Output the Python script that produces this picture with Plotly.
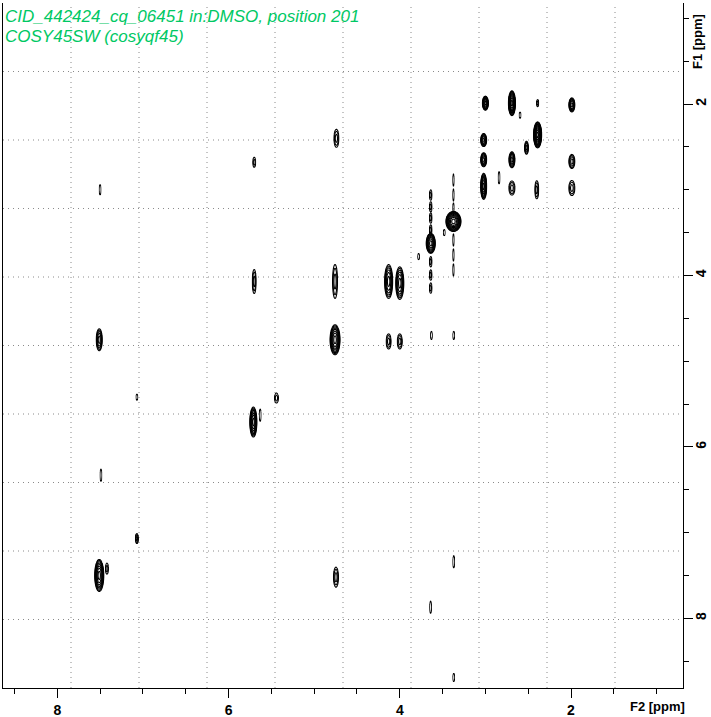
import numpy as np
import plotly.graph_objects as go

# ---- data (ppm) ----
peak_f2 = [3.00, 2.69, 2.595, 2.39, 1.99, 3.02, 2.39, 2.52, 3.02, 2.69, 1.99, 3.02, 2.84, 2.69, 2.40, 1.99,
           3.373, 3.638, 3.48, 3.78, 4.13, 4.00, 4.13, 4.00, 3.63, 3.37, 5.70, 4.756, 4.756, 4.74, 5.70,
           7.50, 7.51, 7.07, 5.44, 5.71, 5.63, 7.49, 7.07, 7.51, 7.42, 4.745, 3.37, 3.64, 3.37,
           3.373, 3.373, 3.373, 3.373, 3.373, 3.373,
           3.638, 3.638, 3.638, 3.638, 3.638, 3.638, 3.638]
peak_f1 = [1.99, 1.99, 2.13, 1.99, 2.01, 2.42, 2.36, 2.51, 2.65, 2.65, 2.67, 2.96, 2.86, 2.98, 3.00, 2.98,
           3.37, 3.625, 3.50, 3.78, 4.07, 4.09, 4.77, 4.77, 4.70, 4.70, 4.07, 4.07, 4.75, 2.40, 2.68,
           3.00, 4.75, 5.42, 5.43, 5.71, 5.63, 6.33, 7.07, 7.50, 7.42, 7.52, 7.34, 7.87, 8.69,
           2.887, 3.062, 3.214, 3.587, 3.762, 3.937,
           3.062, 3.20, 3.33, 3.47, 3.84, 3.995, 4.147]
peak_hw_f2 = [0.035, 0.041, 0.012, 0.014, 0.035, 0.035, 0.047, 0.023, 0.035, 0.035, 0.035, 0.035, 0.012, 0.035, 0.023, 0.035,
              0.088, 0.053, 0.012, 0.012, 0.047, 0.047, 0.029, 0.029, 0.012, 0.012, 0.023, 0.029, 0.058, 0.029, 0.018,
              0.012, 0.035, 0.012, 0.023, 0.041, 0.012, 0.012, 0.018, 0.053, 0.018, 0.029, 0.012, 0.012, 0.012,
              0.010, 0.010, 0.010, 0.010, 0.010, 0.010,
              0.016, 0.016, 0.016, 0.016, 0.016, 0.016, 0.016]
peak_hw_f1 = [0.082, 0.145, 0.035, 0.041, 0.082, 0.076, 0.152, 0.076, 0.082, 0.093, 0.082, 0.152, 0.07, 0.082, 0.105, 0.088,
              0.117, 0.117, 0.035, 0.035, 0.198, 0.19, 0.088, 0.088, 0.047, 0.047, 0.14, 0.198, 0.175, 0.105, 0.058,
              0.058, 0.128, 0.035, 0.058, 0.175, 0.07, 0.07, 0.058, 0.187, 0.064, 0.117, 0.07, 0.07, 0.047,
              0.07, 0.07, 0.06, 0.07, 0.07, 0.07,
              0.06, 0.06, 0.06, 0.06, 0.06, 0.06, 0.06]
peak_levels = [8, 10, 1, 2, 6, 6, 12, 4, 6, 6, 4, 8, 1, 3, 3, 3,
               10, 8, 1, 1, 6, 6, 3, 3, 1, 1, 3, 3, 8, 3, 2,
               1, 5, 1, 2, 8, 1, 1, 3, 8, 2, 3, 1, 1, 1,
               1, 1, 1, 1, 1, 1,
               2, 2, 2, 2, 2, 2, 2]

title_line1 = "CID_442424_cq_06451 in:DMSO, position 201"
title_line2 = "COSY45SW (cosyqf45)"
x_tick_vals = [2, 4, 6, 8]
y_tick_vals = [2, 4, 6, 8]
x_range = [8.634, 0.692]
y_range = [8.813, 0.8215]

LEVEL_RATIO = 1.5

fig = go.Figure()
for x0, y0, hx, hy, n in zip(peak_f2, peak_f1, peak_hw_f2, peak_hw_f1, peak_levels):
    amp = LEVEL_RATIO ** (n - 0.5)
    k = np.sqrt(2 * (n - 0.5) * np.log(LEVEL_RATIO))
    sx, sy = hx / k, hy / k
    xs = np.linspace(x0 - 1.3 * hx, x0 + 1.3 * hx, 27)
    ys = np.linspace(y0 - 1.3 * hy, y0 + 1.3 * hy, 51)
    X, Y = np.meshgrid(xs, ys)
    Z = amp * np.exp(-0.5 * ((X - x0) / sx) ** 2 - 0.5 * ((Y - y0) / sy) ** 2)
    Zl = np.log(Z) / np.log(LEVEL_RATIO)
    fig.add_trace(go.Contour(
        x=np.round(xs, 5), y=np.round(ys, 5), z=np.round(Zl, 3),
        autocontour=False,
        contours=dict(start=0, end=n - 0.5, size=1, coloring="lines"),
        colorscale=[[0, "black"], [1, "black"]],
        showscale=False, line=dict(width=1.1, smoothing=1),
        hoverinfo="skip",
    ))

shapes = []
for i in range(1, 10):
    shapes.append(dict(type="line", xref="paper", yref="paper", x0=i / 10, x1=i / 10, y0=0, y1=1,
                       line=dict(color="#8a8a8a", width=1, dash="1px,4px"), layer="below"))
    shapes.append(dict(type="line", xref="paper", yref="paper", x0=0, x1=1, y0=i / 10, y1=i / 10,
                       line=dict(color="#8a8a8a", width=1, dash="1px,4px"), layer="below"))

tick_font = dict(family="Liberation Sans", size=14, color="black", weight="bold")
label_font = dict(family="Liberation Sans", size=13, color="black", weight="bold")
title_font = dict(family="Liberation Sans", size=17, color="#00c864", style="italic")

fig.update_layout(
    width=711, height=717,
    margin=dict(l=3, r=28, t=3, b=29, autoexpand=False),
    paper_bgcolor="white", plot_bgcolor="white",
    showlegend=False,
    shapes=shapes,
    xaxis=dict(range=x_range, tickvals=x_tick_vals, ticks="outside", ticklen=9, tickwidth=1,
               tickcolor="black", showgrid=False, zeroline=False, showline=True, linecolor="black",
               linewidth=1, tickfont=tick_font, automargin=False,
               minor=dict(dtick=0.5, tick0=0, ticks="outside", ticklen=5, tickcolor="black", showgrid=False)),
    yaxis=dict(range=y_range, tickvals=y_tick_vals, side="right", ticks="outside", ticklen=9, tickwidth=1,
               tickcolor="black", showgrid=False, zeroline=False, showline=True, mirror=True,
               linecolor="black", linewidth=1, tickangle=-90, tickfont=tick_font, automargin=False,
               ticklabelstandoff=-4,
               minor=dict(dtick=0.5, tick0=0, ticks="outside", ticklen=5, tickcolor="black", showgrid=False)),
    annotations=[
        dict(text=title_line1, xref="paper", yref="paper", x=0.0, y=0.997, xanchor="left", yanchor="top",
             showarrow=False, font=title_font),
        dict(text=title_line2, xref="paper", yref="paper", x=0.0, y=0.9674, xanchor="left", yanchor="top",
             showarrow=False, font=title_font),
        dict(text="F2 [ppm]", xref="paper", yref="paper", x=0.963, y=-0.027, xanchor="center", yanchor="middle",
             showarrow=False, font=label_font),
        dict(text="F1 [ppm]", xref="paper", yref="paper", x=1.0206, y=0.943, xanchor="center", yanchor="middle",
             showarrow=False, textangle=-90, font=label_font),
    ],
)

fig.write_html("out.html", config={"displayModeBar": False},
               post_script="document.body.style.margin='0';document.body.style.overflow='hidden';")
